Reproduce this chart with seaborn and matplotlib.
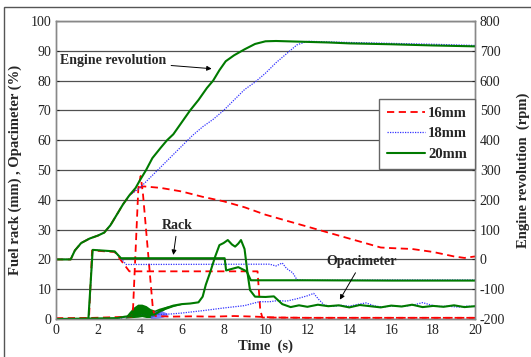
import matplotlib
matplotlib.use("Agg")
import matplotlib.pyplot as plt
import seaborn as sns
from matplotlib.patches import Rectangle
from matplotlib.lines import Line2D

sns.set_style("white")
plt.rcParams['font.family'] = ['Liberation Serif', 'DejaVu Serif']
plt.rcParams['axes.unicode_minus'] = False

# engine revolution (rpm, right axis)
eng_t_20 = [0, 0.7, 0.9, 1.2, 1.6, 2.0, 2.3, 2.6, 2.9, 3.2, 3.5, 3.8, 4.0, 4.3, 4.6, 5.0, 5.3, 5.6, 6.0, 6.4,
            6.8, 7.2, 7.5, 7.8, 8.1, 8.5, 9.0, 9.5, 10.0, 10.5, 11, 12, 13, 14, 16, 18, 20]
eng_20 = [0, 0, 30, 55, 70, 80, 90, 115, 150, 185, 215, 240, 265, 300, 340, 375, 400, 420, 460, 500,
          535, 575, 600, 635, 665, 685, 705, 723, 732, 733, 732, 730, 728, 725, 722, 718, 715]
eng_t_18 = [0, 0.7, 0.9, 1.2, 1.6, 2.0, 2.3, 2.6, 2.9, 3.2, 3.5, 4.0, 4.5, 5.0, 5.5, 6.0, 6.5, 7.0, 7.5, 8.0,
            8.5, 9.0, 9.5, 10.0, 10.5, 11.0, 11.5, 12.0, 13, 14, 16, 18, 20]
eng_18 = [0, 0, 30, 55, 70, 80, 90, 115, 150, 185, 215, 240, 275, 310, 345, 380, 415, 445, 470, 500,
          535, 570, 595, 625, 660, 690, 720, 732, 730, 728, 725, 722, 718]
eng_t_16 = [0, 0.7, 0.9, 1.2, 1.6, 2.0, 2.3, 2.6, 2.9, 3.2, 3.5, 3.9, 4.2, 5.0, 6.0, 7.0, 8.0, 9.0, 10.0, 11.0,
            12.0, 13.0, 14.0, 15.0, 15.5, 16.0, 17.0, 18.0, 19.0, 19.5, 20.0]
eng_16 = [0, 0, 30, 55, 70, 80, 90, 115, 150, 185, 215, 240, 245, 240, 228, 210, 195, 175, 150, 130,
          110, 90, 70, 50, 40, 38, 35, 25, 10, 5, 10]

# fuel rack (mm, left axis)
rack_t_20 = [0, 1.5, 1.55, 1.75, 2.8, 3.1, 8.05, 8.12, 8.7, 9.1, 9.3, 12, 16, 20]
rack_20 = [0, 0, 0.5, 23.2, 22.7, 20.4, 20.4, 16.3, 17.4, 16, 13, 13, 12.9, 12.9]
rack_t_18 = [0, 1.5, 1.56, 1.75, 2.8, 3.35, 10.2, 10.5, 10.8, 11.0, 11.3, 11.5, 12, 16, 20]
rack_18 = [0, 0, 0.5, 23.2, 22.6, 18.3, 18.4, 17.8, 18.8, 17.0, 15.5, 13.2, 13, 13.1, 13.1]
rack_t_16 = [0, 1.52, 1.58, 1.72, 2.8, 3.5, 9.62, 9.75, 9.85, 12, 16, 20]
rack_16 = [0.3, 0.3, 1, 23, 22.5, 16, 16, 3, 0.5, 0.4, 0.4, 0.4]

# opacimeter (%, left axis)
opa_t_20 = [0, 2.9, 3.3, 4.7, 5.0, 5.3, 5.6, 6.0, 6.4, 6.8, 7.0, 7.15, 7.35, 7.6, 7.8, 8.0, 8.2, 8.4, 8.55, 8.7,
            8.83, 9.0, 9.15, 9.26, 9.5, 10.0, 10.4, 10.8, 11.2, 11.6, 12.0, 12.5, 13.0, 13.5, 14.0, 14.5, 15.0,
            15.5, 16.0, 16.5, 17.0, 17.5, 18.0, 18.5, 19.0, 19.5, 20.0]
opa_20 = [0, 0.3, 0.8, 1.5, 2.8, 3.8, 4.5, 5.0, 5.2, 5.6, 7.5, 11.5, 15.5, 21, 24.8, 25.5, 26.5, 25, 24.3, 25.3,
          26.5, 23.5, 15, 9.7, 7.5, 7.4, 7.6, 5.0, 4.0, 4.6, 4.1, 4.8, 4.3, 4.6, 3.9, 4.7, 4.3,
          3.9, 4.5, 4.2, 4.8, 4.0, 4.4, 4.1, 4.6, 4.0, 4.3]
band_t_20 = [3.3, 3.5, 3.7, 3.9, 4.1, 4.3, 4.5, 4.7, 4.9, 5.2, 5.6, 6.0]
band_hi_20 = [0.8, 2.5, 4.0, 5.0, 5.0, 4.5, 3.5, 3.0, 3.6, 4.2, 4.8, 5.2]
band_lo_20 = [0.3, 0.4, 0.5, 0.6, 0.8, 0.5, 0.5, 1.0, 2.0, 3.2, 4.2, 4.9]

opa_t_18 = [0, 3.0, 3.5, 4.0, 4.5, 5.5, 6.0, 7.0, 8.0, 9.0, 9.7, 10.2, 10.6, 11.0, 11.5, 12.0, 12.3, 12.55, 12.8,
            13.2, 13.6, 14.0, 14.4, 14.8, 15.2, 15.6, 16.0, 16.5, 17.0, 17.5, 17.9, 18.3, 18.7, 19.2, 19.6, 20.0]
opa_18 = [0, 0.2, 0.8, 1.2, 1.4, 1.7, 2.0, 2.8, 3.7, 4.5, 5.8, 5.8, 6.2, 6.0, 6.8, 7.8, 8.6, 6.5, 4.7,
          4.2, 4.6, 4.3, 4.9, 5.4, 4.4, 4.0, 4.4, 4.2, 4.6, 5.5, 4.7, 4.2, 4.3, 4.0, 4.3, 4.2]
band_t_18 = [4.5, 4.7, 4.9, 5.1, 5.3]
band_hi_18 = [1.2, 2.6, 3.0, 2.6, 2.0]
band_lo_18 = [0.2, 0.2, 0.3, 0.6, 1.2]

opa_t_16 = [0, 3.62, 3.68, 3.93, 4.04, 4.15, 4.63, 4.75, 5.5, 6.5, 7.5, 8.5, 9.5, 10.5, 12, 14, 16, 18, 20]
opa_16 = [0, 0.8, 4, 44, 48, 42, 3, 1.0, 0.8, 0.9, 0.8, 1.0, 0.8, 0.5, 0.4, 0.4, 0.4, 0.4, 0.4]

series_names = ['16mm', '18mm', '20mm']
colors = {'16mm': '#ff0000', '18mm': '#3333ff', '20mm': '#007a00'}
styles = {'16mm': (0, (4, 2.5)), '18mm': (0, (1, 1)), '20mm': '-'}
widths = {'16mm': 1.3, '18mm': 0.9, '20mm': 1.5}

fig = plt.figure(figsize=(5.31, 3.57), dpi=100)
ax = fig.add_axes([0.1055, 0.1064, 0.789, 0.8347])
ax2 = ax.twinx()

left_sets = {'16mm': [(rack_t_16, rack_16), (opa_t_16, opa_16)],
             '18mm': [(rack_t_18, rack_18), (opa_t_18, opa_18)],
             '20mm': [(rack_t_20, rack_20), (opa_t_20, opa_20)]}
right_sets = {'16mm': (eng_t_16, eng_16), '18mm': (eng_t_18, eng_18), '20mm': (eng_t_20, eng_20)}

ax.fill_between(band_t_20, band_lo_20, band_hi_20, color=colors['20mm'], lw=0, zorder=3)
ax.fill_between(band_t_18, band_lo_18, band_hi_18, color='#5555ff', alpha=0.75, lw=0, zorder=3)

for name in series_names:
    for tt, vv in left_sets[name]:
        sns.lineplot(x=tt, y=vv, ax=ax, color=colors[name], linestyle=styles[name],
                     linewidth=widths[name], estimator=None, zorder=4)
    tt, vv = right_sets[name]
    sns.lineplot(x=tt, y=vv, ax=ax2, color=colors[name], linestyle=styles[name],
                 linewidth=widths[name], estimator=None)

ax.set_xlim(0, 20)
ax.set_ylim(0, 100)
ax2.set_ylim(-200, 800)
ax.set_xticks(range(0, 21, 2))
ax.set_yticks(range(0, 101, 10))
ax2.set_yticks(range(-200, 801, 100))
ax.yaxis.grid(True, color='#505050', lw=0.9)
ax.set_axisbelow(True)
for a in (ax, ax2):
    for sp in a.spines.values():
        sp.set_color('#888888')
        sp.set_linewidth(1.0)
    a.tick_params(labelsize=10, length=2, direction='in', colors='#222222')

ax.set_xlabel('Time  (s)', fontsize=10.5, fontweight='bold', labelpad=2)
ax.set_ylabel('Fuel rack (mm) , Opacimeter (%)', fontsize=10.5, fontweight='bold', labelpad=6)
ax2.set_ylabel('Engine revolution  (rpm)', fontsize=10.5, fontweight='bold', labelpad=8)

arrow = dict(arrowstyle='-|>', color='black', lw=0.7, mutation_scale=7, shrinkA=1, shrinkB=0)
ax.annotate('Engine revolution', xy=(7.43, 84), xytext=(0.2, 86.6), fontsize=10, fontweight='bold',
            ha='left', va='center', arrowprops=arrow, zorder=6)
ax.annotate('Rack', xy=(5.6, 21.5), xytext=(5.8, 31.5), fontsize=10, fontweight='bold',
            ha='center', va='center', arrowprops=arrow, zorder=6)
ax.annotate('Opacimeter', xy=(13.55, 6.5), xytext=(14.6, 19.2), fontsize=10, fontweight='bold',
            ha='center', va='center', arrowprops=arrow, zorder=6)

handles = [Line2D([], [], color=colors[n], linestyle=styles[n], linewidth=widths[n]) for n in series_names]
leg = ax2.legend(handles, series_names, loc='upper right', bbox_to_anchor=(1.0, 0.74),
                 borderaxespad=0, fancybox=False, framealpha=1, edgecolor='#666666',
                 prop={'weight': 'bold', 'size': 10.5}, handlelength=2.6, handletextpad=0.2,
                 labelspacing=0.5, borderpad=0.55)
leg.get_frame().set_linewidth(1.0)

fig.add_artist(Rectangle((4 / 531, -0.05), 1.0, 1 - 7 / 357 + 0.05, transform=fig.transFigure,
                         fill=False, edgecolor='#555555', lw=1.0))

fig.savefig('out.png', dpi=100)
